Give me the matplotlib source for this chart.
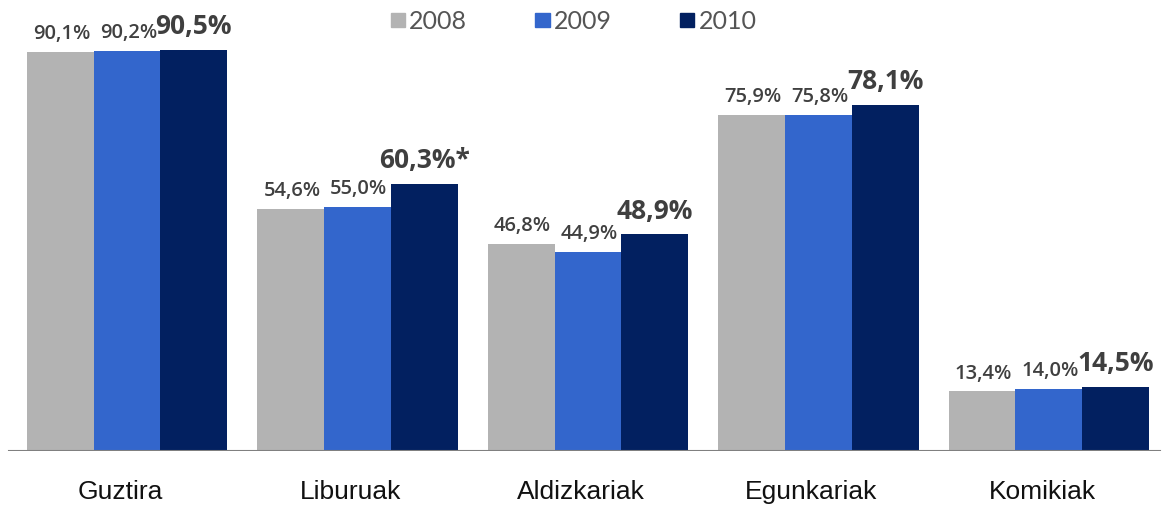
import matplotlib
matplotlib.use("Agg")
import matplotlib.pyplot as plt
import numpy as np

categories = ["Guztira", "Liburuak", "Aldizkariak", "Egunkariak", "Komikiak"]
years = ["2008", "2009", "2010"]
v2008 = [90.1, 54.6, 46.8, 75.9, 13.4]
v2009 = [90.2, 55.0, 44.9, 75.8, 14.0]
v2010 = [90.5, 60.3, 48.9, 78.1, 14.5]
labels2008 = ["90,1%", "54,6%", "46,8%", "75,9%", "13,4%"]
labels2009 = ["90,2%", "55,0%", "44,9%", "75,8%", "14,0%"]
labels2010 = ["90,5%", "60,3%*", "48,9%", "78,1%", "14,5%"]

colors = ["#b3b3b3", "#3366cc", "#022060"]
series = [v2008, v2009, v2010]
label_sets = [labels2008, labels2009, labels2010]

fig = plt.figure(figsize=(11.66, 5.06), dpi=100)
fig.patch.set_facecolor("white")
ax = fig.add_axes([0, 0.107, 1, 0.893])
ax.set_xlim(-0.551, 4.508)
ax.set_ylim(0, 102)
ax.axis("off")

x = np.arange(len(categories))
width = 0.29
for i, (vals, labs, col) in enumerate(zip(series, label_sets, colors)):
    pos = x + (i - 1) * width
    ax.bar(pos, vals, width=width, color=col, edgecolor="none", zorder=2)
    for px, v, lab in zip(pos, vals, labs):
        if i == 2:
            ax.annotate(lab, (px, v), xytext=(0, 12), textcoords="offset points",
                        ha="center", va="baseline", fontsize=19, fontweight="bold",
                        color="#3f3f3f", family="Open Sans")
        else:
            ax.annotate(lab, (px, v), xytext=(1, 10), textcoords="offset points",
                        ha="center", va="baseline", fontsize=14.5, fontweight="semibold",
                        color="#404040", family="Open Sans")

# baseline
ax.axhline(0, xmin=0.008, xmax=0.995, color="#808080", linewidth=1.5, zorder=3)

# category labels
for xi, cat in zip(x, categories):
    ax.text(xi - 0.03, -9, cat, ha="center", va="center", fontsize=19,
            color="#111111", family="Liberation Sans")

# legend drawn manually at the top
leg_x = [0.340, 0.464, 0.588]
for lx, yr, col in zip(leg_x, years, colors):
    fig.patches.append(plt.Rectangle((lx - 0.005, 0.944), 0.0125, 0.028,
                                     transform=fig.transFigure, color=col))
    fig.text(lx + 0.011, 0.957, yr, ha="left", va="center", fontsize=18,
             color="#555555", family="Lato")

fig.savefig("out.png", dpi=100, facecolor="white")
